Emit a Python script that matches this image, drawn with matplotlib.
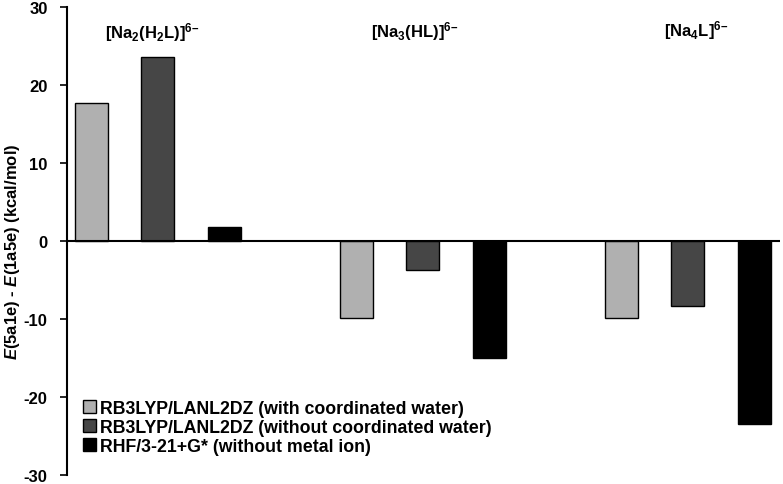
import numpy as np
import matplotlib.pyplot as plt

plt.rcParams['font.family'] = ['Liberation Sans', 'DejaVu Sans']
plt.rcParams['font.weight'] = 'bold'
plt.rcParams['axes.unicode_minus'] = False
plt.rcParams['mathtext.fontset'] = 'custom'
plt.rcParams['mathtext.rm'] = 'Liberation Sans:bold'
plt.rcParams['mathtext.bf'] = 'Liberation Sans:bold'
plt.rcParams['mathtext.it'] = 'Liberation Sans:italic:bold'
plt.rcParams['mathtext.bfit'] = 'Liberation Sans:italic:bold'

groups = [r'$\mathbf{[Na_2(H_2L)]^{6–}}$', r'$\mathbf{[Na_3(HL)]^{6–}}$', r'$\mathbf{[Na_4L]^{6–}}$']
series = ['RB3LYP/LANL2DZ (with coordinated water)',
          'RB3LYP/LANL2DZ (without coordinated water)',
          'RHF/3-21+G* (without metal ion)']
with_water = [17.7, -9.9, -9.8]
without_water = [23.6, -3.7, -8.3]
rhf = [1.8, -15.0, -23.5]
colors = ['#b0b0b0', '#464646', '#000000']

fig = plt.figure(figsize=(7.83, 4.85), dpi=100)
ax = fig.add_axes([0.0856, 0.0186, 0.9104, 0.9644])

x = np.arange(len(groups))
w = 0.125
for i, (vals, lab) in enumerate(zip([with_water, without_water, rhf], series)):
    ax.bar(x + (i - 1) * 0.25, vals, width=w, color=colors[i], edgecolor='black',
           linewidth=1.0, label=lab, zorder=2)

ax.set_xlim(-0.343, 2.347)
ax.set_ylim(-30, 30)
ax.set_yticks([-30, -20, -10, 0, 10, 20, 30])
ax.set_xticks([])
ax.tick_params(axis='y', direction='out', length=5, width=1.2, pad=9, labelsize=12)
for t in ax.get_yticklabels():
    t.set_fontweight('bold')
for s in ['top', 'right', 'bottom']:
    ax.spines[s].set_visible(False)
ax.spines['left'].set_linewidth(1.5)
ax.axhline(0, color='black', linewidth=1.5, zorder=3)

ax.set_ylabel(r'$\mathbfit{E}$(5a1e) - $\mathbfit{E}$(1a5e) (kcal/mol)',
              fontsize=12, fontweight='bold')
ax.yaxis.set_label_coords(-0.063, 0.48)

label_pos = [(-0.02, 26.9), (0.97, 27.0), (2.03, 27.2)]
for g, (gx, gy) in zip(groups, label_pos):
    ax.text(gx, gy, g, ha='center', va='center', fontsize=12)

leg = ax.legend(loc='lower left', bbox_to_anchor=(0.012, 0.028), frameon=False,
                handlelength=0.75, handleheight=0.75, handletextpad=0.2,
                labelspacing=0.12, fontsize=12.8, borderaxespad=0)
for t in leg.get_texts():
    t.set_fontweight('bold')

fig.savefig('out.png', dpi=100)
